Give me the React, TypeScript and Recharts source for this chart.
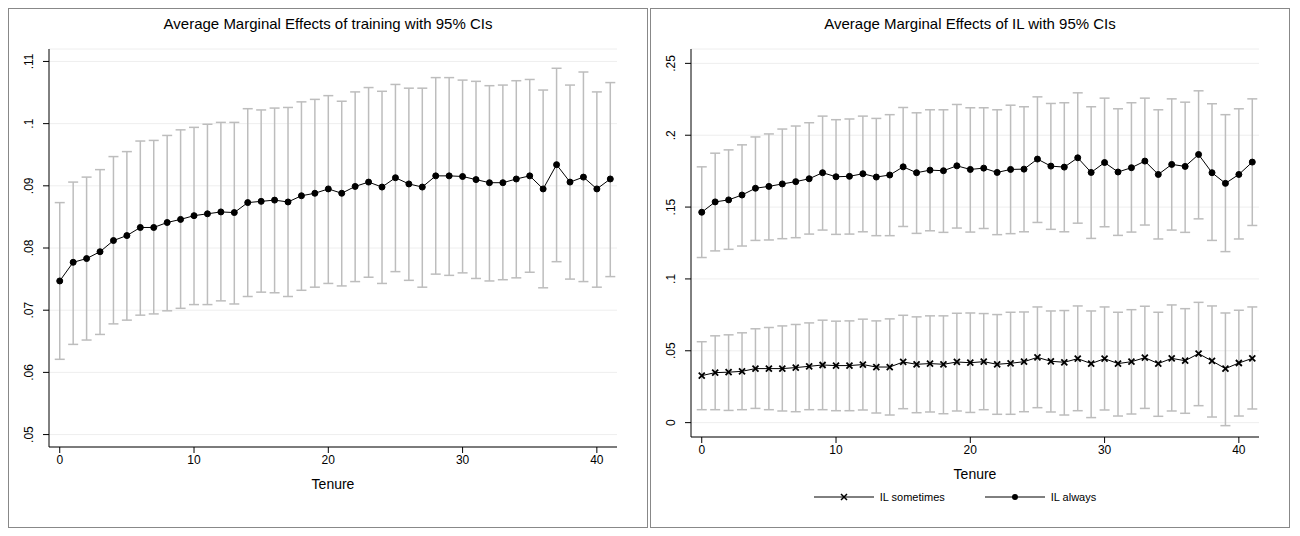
import React from 'react';
import { ComposedChart, Line, XAxis, YAxis, CartesianGrid, ErrorBar, Legend } from 'recharts';

const tenure = Array.from({ length: 42 }, (_, i) => i);

// Left: training
const trainMean = [0.0747, 0.0777, 0.0783, 0.0794, 0.0812, 0.0820, 0.0833, 0.0833, 0.0841, 0.0846, 0.0852, 0.0855, 0.0858, 0.0857, 0.0873, 0.0875, 0.0877, 0.0874, 0.0884, 0.0888, 0.0895, 0.0888, 0.0899, 0.0906, 0.0898, 0.0913, 0.0903, 0.0898, 0.0916, 0.0916, 0.0915, 0.0910, 0.0905, 0.0905, 0.0911, 0.0916, 0.0895, 0.0934, 0.0906, 0.0914, 0.0895, 0.0911];
const trainHigh = [0.0873, 0.0906, 0.0914, 0.0926, 0.0947, 0.0955, 0.0972, 0.0973, 0.0981, 0.0990, 0.0994, 0.0999, 0.1002, 0.1002, 0.1024, 0.1022, 0.1025, 0.1026, 0.1035, 0.1039, 0.1045, 0.1036, 0.1051, 0.1058, 0.1052, 0.1063, 0.1057, 0.1057, 0.1074, 0.1074, 0.1070, 0.1068, 0.1061, 0.1062, 0.1069, 0.1071, 0.1054, 0.1089, 0.1062, 0.1083, 0.1051, 0.1066];
const trainLow = [0.0621, 0.0645, 0.0652, 0.0661, 0.0678, 0.0684, 0.0692, 0.0694, 0.0699, 0.0703, 0.0709, 0.0709, 0.0715, 0.0710, 0.0722, 0.0729, 0.0728, 0.0722, 0.0732, 0.0737, 0.0743, 0.0739, 0.0746, 0.0753, 0.0743, 0.0762, 0.0748, 0.0737, 0.0758, 0.0756, 0.0760, 0.0751, 0.0747, 0.0749, 0.0752, 0.0761, 0.0736, 0.0778, 0.0750, 0.0746, 0.0737, 0.0754];

// Right: IL always
const alwaysMean = [0.1464, 0.1536, 0.1550, 0.1584, 0.1631, 0.1644, 0.1661, 0.1677, 0.1697, 0.1739, 0.1711, 0.1714, 0.1732, 0.1709, 0.1723, 0.1780, 0.1739, 0.1757, 0.1753, 0.1787, 0.1762, 0.1771, 0.1741, 0.1762, 0.1764, 0.1834, 0.1785, 0.1778, 0.1843, 0.1741, 0.1810, 0.1744, 0.1774, 0.1820, 0.1727, 0.1797, 0.1783, 0.1866, 0.1739, 0.1665, 0.1727, 0.1813];
const alwaysHigh = [0.1780, 0.1875, 0.1898, 0.1933, 0.1988, 0.2009, 0.2043, 0.2064, 0.2087, 0.2133, 0.2108, 0.2113, 0.2133, 0.2117, 0.2143, 0.2193, 0.2156, 0.2177, 0.2177, 0.2214, 0.2191, 0.2191, 0.2177, 0.2209, 0.2198, 0.2267, 0.2221, 0.2226, 0.2295, 0.2198, 0.2258, 0.2184, 0.2226, 0.2258, 0.2177, 0.2253, 0.2230, 0.2309, 0.2219, 0.2143, 0.2184, 0.2253];
const alwaysLow = [0.1149, 0.1195, 0.1206, 0.1229, 0.1268, 0.1271, 0.1280, 0.1287, 0.1312, 0.1340, 0.1310, 0.1312, 0.1328, 0.1301, 0.1301, 0.1365, 0.1317, 0.1335, 0.1324, 0.1354, 0.1326, 0.1351, 0.1308, 0.1315, 0.1328, 0.1393, 0.1345, 0.1328, 0.1388, 0.1282, 0.1363, 0.1303, 0.1326, 0.1375, 0.1278, 0.1340, 0.1324, 0.1418, 0.1268, 0.1190, 0.1278, 0.1372];

// Right: IL sometimes
const someMean = [0.0327, 0.0348, 0.0351, 0.0357, 0.0376, 0.0376, 0.0376, 0.0383, 0.0392, 0.0401, 0.0397, 0.0397, 0.0404, 0.0387, 0.0387, 0.0422, 0.0406, 0.0411, 0.0406, 0.0422, 0.0417, 0.0424, 0.0406, 0.0413, 0.0424, 0.0454, 0.0427, 0.0420, 0.0445, 0.0411, 0.0445, 0.0411, 0.0424, 0.0452, 0.0411, 0.0447, 0.0431, 0.0480, 0.0429, 0.0376, 0.0415, 0.0447];
const someHigh = [0.0563, 0.0604, 0.0611, 0.0625, 0.0653, 0.0662, 0.0673, 0.0683, 0.0694, 0.0713, 0.0706, 0.0708, 0.0720, 0.0708, 0.0722, 0.0747, 0.0736, 0.0743, 0.0743, 0.0761, 0.0763, 0.0759, 0.0752, 0.0768, 0.0770, 0.0805, 0.0777, 0.0780, 0.0812, 0.0777, 0.0805, 0.0768, 0.0786, 0.0810, 0.0768, 0.0819, 0.0793, 0.0837, 0.0812, 0.0763, 0.0782, 0.0805];
const someLow = [0.0090, 0.0090, 0.0085, 0.0090, 0.0099, 0.0090, 0.0081, 0.0076, 0.0090, 0.0090, 0.0083, 0.0083, 0.0088, 0.0067, 0.0053, 0.0097, 0.0069, 0.0074, 0.0062, 0.0081, 0.0071, 0.0090, 0.0058, 0.0058, 0.0076, 0.0104, 0.0074, 0.0053, 0.0083, 0.0035, 0.0088, 0.0046, 0.0060, 0.0099, 0.0044, 0.0081, 0.0065, 0.0118, 0.0039, -0.0021, 0.0046, 0.0095];

const leftTicks = [0.05, 0.06, 0.07, 0.08, 0.09, 0.1, 0.11];
const rightTicks = [0, 0.05, 0.1, 0.15, 0.2, 0.25];
const xTicks = [0, 10, 20, 30, 40];

const FONT = '"Liberation Sans", Arial, sans-serif';

const leftData = tenure.map((t, i) => ({
  t,
  mean: trainMean[i],
  err: [trainMean[i] - trainLow[i], trainHigh[i] - trainMean[i]],
}));

const rightData = tenure.map((t, i) => ({
  t,
  always: alwaysMean[i],
  alwaysErr: [alwaysMean[i] - alwaysLow[i], alwaysHigh[i] - alwaysMean[i]],
  some: someMean[i],
  someErr: [someMean[i] - someLow[i], someHigh[i] - someMean[i]],
}));

const fmt = (v: number) => {
  if (Math.abs(v) < 1e-9) return '0';
  return String(Number(v.toFixed(3))).replace(/^0/, '');
};

const VTick = (props: any) => {
  const { x, y, payload } = props;
  return (
    <text x={x - 8} y={y} transform={`rotate(-90 ${x - 8} ${y})`} textAnchor="middle" fontSize={12} fill="#000" fontFamily={FONT}>
      {fmt(payload.value)}
    </text>
  );
};

const CrossDot = (props: any) => {
  const { cx, cy } = props;
  if (cx == null || cy == null) return null;
  return (
    <path d={`M${cx - 3},${cy - 3}L${cx + 3},${cy + 3}M${cx - 3},${cy + 3}L${cx + 3},${cy - 3}`} stroke="#000" strokeWidth={1.8} />
  );
};

const Title = ({ text }: { text: string }) => (
  <div style={{ position: 'absolute', top: 6, left: 0, width: '100%', textAlign: 'center', fontSize: 15, fontFamily: FONT }}>{text}</div>
);

const panel: React.CSSProperties = {
  position: 'relative',
  width: 640,
  height: 520,
  border: '1px solid #888',
  boxSizing: 'border-box',
  background: '#fff',
};

export default function App() {
  return (
    <div style={{ display: 'flex', gap: 2, fontFamily: FONT }}>
      <div style={panel}>
        <Title text="Average Marginal Effects of training with 95% CIs" />
        <ComposedChart width={638} height={518} data={leftData} margin={{ top: 40, right: 30, bottom: 40, left: 0 }}>
          <CartesianGrid vertical={false} stroke="#eeeeee" />
          <XAxis dataKey="t" type="number" domain={[-0.8, 41.5]} ticks={xTicks} tick={{ fontSize: 12, fill: '#000', fontFamily: FONT }}
            stroke="#000" tickSize={6} label={{ value: 'Tenure', position: 'insideBottom', offset: -2, fontSize: 14, fill: '#000', fontFamily: FONT }} height={40} />
          <YAxis type="number" domain={[0.048, 0.112]} ticks={leftTicks} tick={<VTick />} stroke="#000" tickSize={6} width={40} />
          <Line dataKey="mean" stroke="#000" strokeWidth={1} dot={{ r: 3, fill: '#000', stroke: '#000' }} isAnimationActive={false}>
            <ErrorBar dataKey="err" stroke="#bdbdbd" strokeWidth={1.5} width={5} isAnimationActive={false} />
          </Line>
        </ComposedChart>
      </div>
      <div style={panel}>
        <Title text="Average Marginal Effects of IL with 95% CIs" />
        <ComposedChart width={638} height={518} data={rightData} margin={{ top: 40, right: 30, bottom: 10, left: 0 }}>
          <CartesianGrid vertical={false} stroke="#eeeeee" />
          <XAxis dataKey="t" type="number" domain={[-0.8, 41.5]} ticks={xTicks} tick={{ fontSize: 12, fill: '#000', fontFamily: FONT }}
            stroke="#000" tickSize={6} label={{ value: 'Tenure', position: 'insideBottom', offset: -2, fontSize: 14, fill: '#000', fontFamily: FONT }} height={40} />
          <YAxis type="number" domain={[-0.01, 0.26]} ticks={rightTicks} tick={<VTick />} stroke="#000" tickSize={6} width={40} />
          <Legend verticalAlign="bottom" height={40} iconSize={0}
            content={() => (
              <div style={{ display: 'flex', justifyContent: 'center', gap: 40, fontSize: 11, fontFamily: FONT, paddingTop: 14 }}>
                <span style={{ display: 'flex', alignItems: 'center', gap: 6 }}>
                  <svg width={60} height={10}><line x1={0} y1={5} x2={60} y2={5} stroke="#000" /><path d="M27,2L33,8M27,8L33,2" stroke="#000" strokeWidth={1.5} /></svg>
                  IL sometimes
                </span>
                <span style={{ display: 'flex', alignItems: 'center', gap: 6 }}>
                  <svg width={60} height={10}><line x1={0} y1={5} x2={60} y2={5} stroke="#000" /><circle cx={30} cy={5} r={3} fill="#000" /></svg>
                  IL always
                </span>
              </div>
            )} />
          <Line dataKey="some" stroke="#000" strokeWidth={1} dot={<CrossDot />} isAnimationActive={false}>
            <ErrorBar dataKey="someErr" stroke="#bdbdbd" strokeWidth={1.5} width={5} isAnimationActive={false} />
          </Line>
          <Line dataKey="always" stroke="#000" strokeWidth={1} dot={{ r: 3, fill: '#000', stroke: '#000' }} isAnimationActive={false}>
            <ErrorBar dataKey="alwaysErr" stroke="#bdbdbd" strokeWidth={1.5} width={5} isAnimationActive={false} />
          </Line>
        </ComposedChart>
      </div>
    </div>
  );
}
